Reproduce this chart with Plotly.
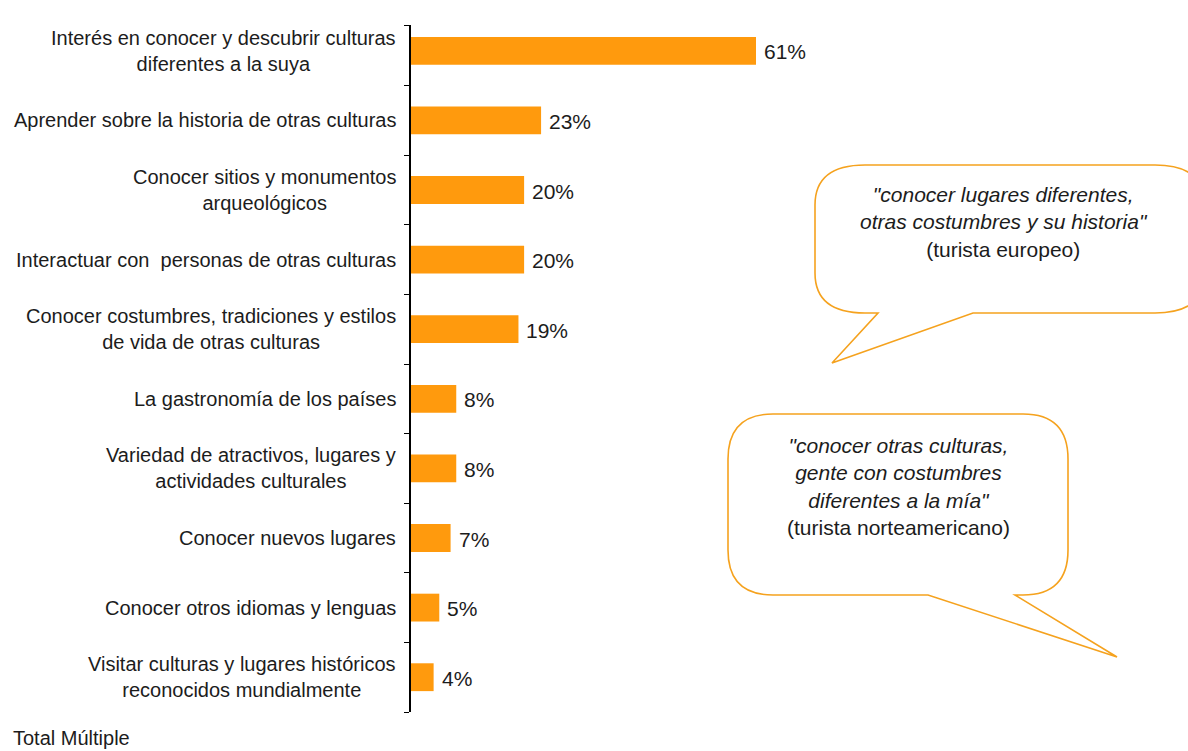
import plotly.graph_objects as go

# Motivaciones del turismo cultural (respuesta múltiple)
categorias = [
    "Interés en conocer y descubrir culturas<br>diferentes a la suya",
    "Aprender sobre la historia de otras culturas",
    "Conocer sitios y monumentos<br>arqueológicos",
    "Interactuar con  personas de otras culturas",
    "Conocer costumbres, tradiciones y estilos<br>de vida de otras culturas",
    "La gastronomía de los países",
    "Variedad de atractivos, lugares y<br>actividades culturales",
    "Conocer nuevos lugares",
    "Conocer otros idiomas y lenguas",
    "Visitar culturas y lugares históricos<br>reconocidos mundialmente",
]
porcentajes = [61, 23, 20, 20, 19, 8, 8, 7, 5, 4]

cita_europeo = [
    "<i>\"conocer lugares diferentes,</i>",
    "<i>otras costumbres y su historia\"</i>",
    "(turista europeo)",
]
cita_norteamericano = [
    "<i>\"conocer otras culturas,</i>",
    "<i>gente con costumbres</i>",
    "<i>diferentes a la mía\"</i>",
    "(turista norteamericano)",
]
nota_pie = "Total Múltiple"

W, H = 1188, 751
ML, MR, MT, MB = 411, 0, 25, 39
FONT = "Liberation Sans, Arial, sans-serif"
TXT = "#1c1c1c"
NARANJA = "#FF9A0D"
BORDE = "#F5A21E"

ids = list(range(len(categorias)))
pw = W - ML - MR
ph = H - MT - MB
paso = 69.6                      # px per category band
y_top = len(ids) - 0.5 - ph / paso

fig = go.Figure(
    go.Bar(
        x=porcentajes,
        y=ids,
        orientation="h",
        marker=dict(color=NARANJA, line=dict(width=0)),
        width=0.40,
        hoverinfo="skip",
    )
)

# Value labels just past the end of each bar
for i, v in zip(ids, porcentajes):
    fig.add_annotation(
        x=v, xref="x", y=i, yref="y", text=f"{v}%", showarrow=False,
        xanchor="left", yanchor="middle", xshift=6, yshift=-1,
        font=dict(family=FONT, size=21, color=TXT),
    )

# Category labels, centred line by line and right-aligned against the axis
for i, lab in zip(ids, categorias):
    fig.add_annotation(
        x=0, xref="paper", y=i, yref="y",
        text=lab, showarrow=False, align="center",
        xanchor="right", yanchor="middle", xshift=-13,
        font=dict(family=FONT, size=20, color=TXT),
    )


def px(x):
    return (x - ML) / pw


def py(y):
    return (H - MB - y) / ph


def bubble(x0, y0, x1, y1, rx, ry, t0, tip, t1):
    """Rounded speech bubble with a tail leaving the bottom edge."""
    pts = [
        f"M {px(x0 + rx)},{py(y0)}",
        f"L {px(x1 - rx)},{py(y0)}",
        f"Q {px(x1)},{py(y0)} {px(x1)},{py(y0 + ry)}",
        f"L {px(x1)},{py(y1 - ry)}",
        f"Q {px(x1)},{py(y1)} {px(x1 - rx)},{py(y1)}",
        f"L {px(t1)},{py(y1)}",
        f"L {px(tip[0])},{py(tip[1])}",
        f"L {px(t0)},{py(y1)}",
        f"L {px(x0 + rx)},{py(y1)}",
        f"Q {px(x0)},{py(y1)} {px(x0)},{py(y1 - ry)}",
        f"L {px(x0)},{py(y0 + ry)}",
        f"Q {px(x0)},{py(y0)} {px(x0 + rx)},{py(y0)}",
        "Z",
    ]
    return " ".join(pts)


fig.add_shape(
    type="path", xref="paper", yref="paper",
    path=bubble(815, 165, 1205, 313, 50, 40, 878, (832, 363), 973),
    line=dict(color=BORDE, width=1.6), fillcolor="white", layer="above",
)
fig.add_shape(
    type="path", xref="paper", yref="paper",
    path=bubble(728, 414, 1068, 595, 45, 45, 928, (1117, 657), 1015),
    line=dict(color=BORDE, width=1.6), fillcolor="white", layer="above",
)

fig.add_annotation(
    x=px(1004), xref="paper", y=py(222), yref="paper",
    text="<br>".join(cita_europeo), showarrow=False, align="center",
    xanchor="center", yanchor="middle",
    font=dict(family=FONT, size=21, color=TXT),
)
fig.add_annotation(
    x=px(898), xref="paper", y=py(486), yref="paper",
    text="<br>".join(cita_norteamericano), showarrow=False, align="center",
    xanchor="center", yanchor="middle",
    font=dict(family=FONT, size=21, color=TXT),
)
fig.add_annotation(
    x=px(11), xref="paper", y=py(751), yref="paper",
    text=nota_pie, showarrow=False, xanchor="left", yanchor="bottom",
    font=dict(family=FONT, size=20, color=TXT),
)

fig.update_layout(
    width=W, height=H,
    margin=dict(l=ML, r=MR, t=MT, b=MB),
    paper_bgcolor="white", plot_bgcolor="white",
    showlegend=False,
    xaxis=dict(range=[0, pw / (345 / 61)], visible=False, fixedrange=True),
    yaxis=dict(
        type="linear", range=[len(ids) - 0.5, y_top],
        showticklabels=False, showgrid=False, zeroline=False,
        showline=True, linecolor="black", linewidth=1.5,
        ticks="outside", ticklen=5, tickcolor="black", tickwidth=1.2,
        tickmode="array",
        tickvals=[y_top] + [i + 0.5 for i in ids],
        fixedrange=True,
    ),
)

fig.write_html("out.html")
